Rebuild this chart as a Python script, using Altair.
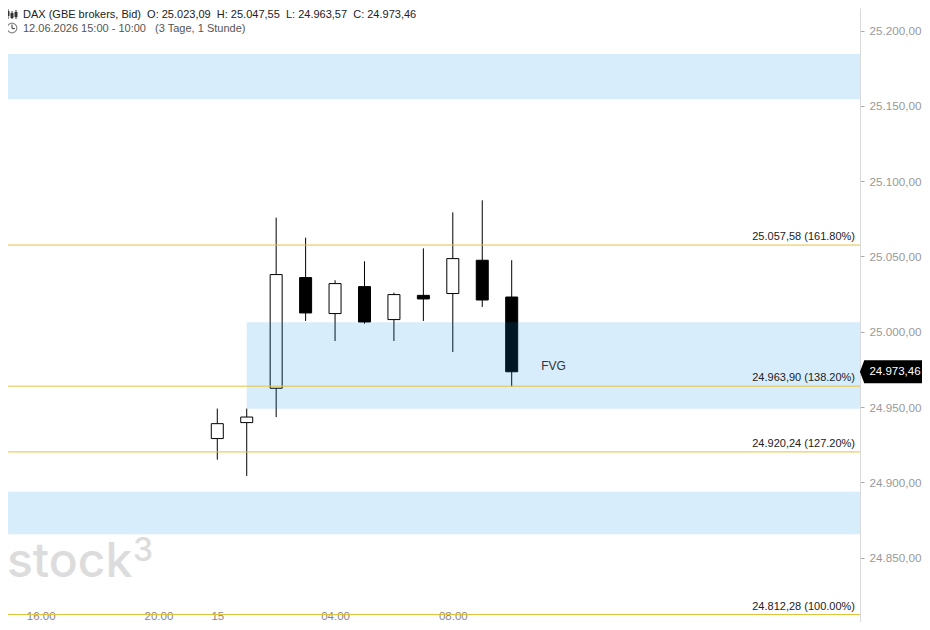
import altair as alt
import pandas as pd

# ---- data ----
bar_index = list(range(11))  # hourly bars of 15.06 (00:00 .. 10:00)
opens = [24929.1, 24939.7, 24962.5, 25036.0, 25012.1, 25030.0, 25008.1, 25024.2, 25025.4, 25047.5, 25023.09]
highs = [24949.0, 24949.0, 25075.8, 25062.5, 25034.2, 25046.8, 25026.0, 25055.4, 25079.3, 25087.3, 25047.55]
lows = [24915.1, 24904.3, 24943.4, 25007.2, 24993.9, 25005.4, 24993.9, 25007.2, 24986.6, 25016.5, 24963.57]
closes = [24939.0, 24943.4, 25038.0, 25012.5, 25032.0, 25006.5, 25024.7, 25021.8, 25048.6, 25021.1, 24973.46]

fib_levels = [25057.58, 24963.90, 24920.24, 24812.28]
fib_pcts = ["161.80%", "138.20%", "127.20%", "100.00%"]

band_lows = [25218.3, 25154.4, 24865.5]
band_highs = [25240.0, 25184.5, 24893.8]
fvg_low, fvg_high, fvg_start, fvg_label_pos = 24948.9, 25006.3, 1, 11

x_tick_pos = [-6, -2, 0, 4, 8]
x_tick_labels = ["16:00", "20:00", "15", "04:00", "08:00"]
y_ticks = [24850, 24900, 24950, 25000, 25050, 25100, 25150, 25200]

X_MIN, X_MAX = -7.109, 21.831
Y_MIN, Y_MAX = 24807.3, 25215.0
W, H = 852, 614
PAD_RIGHT = 62
NB = "\u00a0"


def de(v):
    s = f"{v:,.2f}"
    return s.replace(",", "_").replace(".", ",").replace("_", ".")


candles = pd.DataFrame({"i": bar_index, "open": opens, "high": highs, "low": lows, "close": closes})
candles["bull"] = candles["close"] >= candles["open"]

fib = pd.DataFrame({"level": fib_levels, "label": [f"{de(v)} ({p})" for v, p in zip(fib_levels, fib_pcts)]})
bands = pd.DataFrame({"lo": band_lows, "hi": band_highs, "x0": X_MIN, "x1": X_MAX})
fvg = pd.DataFrame({"lo": [fvg_low], "hi": [fvg_high], "x0": [fvg_start], "x1": [X_MAX],
                    "xl": [fvg_label_pos], "mid": [(fvg_low + fvg_high) / 2]})

xs = alt.Scale(domain=[X_MIN, X_MAX], nice=False, zero=False, padding=0)
ys = alt.Scale(domain=[Y_MIN, Y_MAX], nice=False, zero=False, padding=0)

label_expr = " : ".join(
    [f"datum.value == {p} ? '{l}'" for p, l in zip(x_tick_pos, x_tick_labels)]
) + " : ''"

x_axis = alt.Axis(values=x_tick_pos, labelExpr=label_expr, domain=False, grid=False, ticks=False,
                  tickSize=0, labelColor="#888", labelFontSize=11.5, labelFont="Liberation Sans",
                  labelPadding=-3, labelBaseline="alphabetic", title=None)
y_axis = alt.Axis(orient="right", values=y_ticks,
                  labelExpr="replace(replace(replace(format(datum.value, ',.2f'), ',', '_'), '.', ','), '_', '.')",
                  domainColor="#d9d9d9", tickColor="#aaa", tickSize=4, labelColor="#999",
                  labelFontSize=11.7, labelFont="Liberation Sans", labelPadding=5, grid=False, title=None)


def X(field):
    return alt.X(field, scale=xs, axis=x_axis)


def Y(field):
    return alt.Y(field, scale=ys, axis=y_axis)


base = alt.Chart(candles)

wicks = base.mark_rule(color="#000", strokeWidth=1).encode(
    x=X("i:Q"), y=Y("low:Q"), y2="high:Q",
)
bodies = base.mark_bar(size=12, stroke="#000", strokeWidth=1).encode(
    x=X("i:Q"),
    y=Y("open:Q"),
    y2="close:Q",
    fill=alt.Fill("bull:N", scale=alt.Scale(domain=[True, False], range=["#ffffff", "#000000"]), legend=None),
)

band_layer = alt.Chart(bands).mark_rect(fill="#0d8ee8", opacity=0.16, clip=True).encode(
    x=X("x0:Q"), x2="x1:Q", y=Y("lo:Q"), y2="hi:Q"
)
fvg_layer = alt.Chart(fvg).mark_rect(fill="#0d8ee8", opacity=0.16, clip=True).encode(
    x=X("x0:Q"), x2="x1:Q", y=Y("lo:Q"), y2="hi:Q"
)
fvg_text = alt.Chart(fvg).mark_text(text="FVG", align="left", baseline="middle", fontSize=12,
                                    font="Liberation Sans", color="#333").encode(
    x=X("xl:Q"), y=Y("mid:Q")
)

fib_lines = alt.Chart(fib).mark_rule(color="#e6c23c", strokeWidth=1).encode(
    x=alt.value(0), x2=alt.value(W), y=Y("level:Q")
)
fib_text = alt.Chart(fib).mark_text(align="right", baseline="bottom", dy=-3, fontSize=11,
                                    font="Liberation Sans", color="#222").encode(
    x=alt.value(W - 5), y=Y("level:Q"), text="label:N"
)

last = candles.iloc[[-1]].copy()
last["tag"] = [de(v) for v in last["close"]]
tag_shape = alt.Chart(last).mark_point(
    shape="M-1,0L-0.88,-0.32L1,-0.32L1,0.32L-0.88,0.32Z", size=4356, filled=True,
    fill="#000", stroke="#000", opacity=1).encode(
    x=alt.value(W + 34), y=Y("close:Q")
)
tag_text = alt.Chart(last).mark_text(align="center", baseline="middle", fontSize=11.5,
                                     font="Liberation Sans", color="#fff").encode(
    x=alt.value(W + 35), y=Y("close:Q"), text="tag:N"
)

line1 = ("DAX (GBE brokers, Bid)" + NB * 2 + "O: " + de(opens[-1]) + NB * 2 + "H: " + de(highs[-1]) +
         NB * 2 + "L: " + de(lows[-1]) + NB * 2 + "C: " + de(closes[-1]))
line2 = "12.06.2026 15:00 - 10:00" + NB * 3 + "(3 Tage, 1 Stunde)"
hdr = pd.DataFrame({"t1": [line1], "t2": [line2]})
h1 = alt.Chart(hdr).mark_text(align="left", baseline="middle", fontSize=11, font="Liberation Sans",
                              color="#222").encode(x=alt.value(15), y=alt.value(6.5), text="t1:N")
h2 = alt.Chart(hdr).mark_text(align="left", baseline="middle", fontSize=11, font="Liberation Sans",
                              color="#555").encode(x=alt.value(15), y=alt.value(20.5), text="t2:N")
clock = alt.Chart(hdr).mark_point(shape="circle", size=95, filled=False, stroke="#555",
                                  strokeWidth=1.2).encode(x=alt.value(4), y=alt.value(20))
clock_hand = alt.Chart(hdr).mark_rule(color="#555", strokeWidth=1.2).encode(
    x=alt.value(4), y=alt.value(16.5), y2=alt.value(20.5))
clock_hand2 = alt.Chart(hdr).mark_rule(color="#555", strokeWidth=1.2).encode(
    x=alt.value(4), x2=alt.value(7), y=alt.value(20.5))
icon_w = alt.Chart(pd.DataFrame({"ix": [0, 4, 8], "y0": [1, 3, 2], "y1": [11, 11, 11]})).mark_rule(
    color="#333", strokeWidth=1).encode(x=alt.X("ix:Q", scale=None, axis=None),
                                        y=alt.Y("y0:Q", scale=None, axis=None), y2="y1:Q")
icon_b = alt.Chart(pd.DataFrame({"ix": [0, 4, 8], "y0": [3, 5, 4], "y1": [8, 10, 9]})).mark_bar(
    size=3, color="#333").encode(x=alt.X("ix:Q", scale=None, axis=None),
                                 y=alt.Y("y0:Q", scale=None, axis=None), y2="y1:Q")

wm = pd.DataFrame({"a": ["stock"], "b": ["3"]})
wm1 = alt.Chart(wm).mark_text(align="left", baseline="alphabetic", fontSize=48, font="Inter",
                              fontWeight=500, color="#dcdcdc").encode(x=alt.value(-1), y=alt.value(569), text="a:N")
wm2 = alt.Chart(wm).mark_text(align="left", baseline="alphabetic", fontSize=32, font="Inter",
                              fontWeight=500, color="#dcdcdc").encode(x=alt.value(125), y=alt.value(553), text="b:N")

chart = alt.layer(
    wicks, bodies, band_layer, fvg_layer, fib_lines, fib_text, fvg_text,
    wm1, wm2, h1, h2, clock, clock_hand, clock_hand2, icon_w, icon_b, tag_shape, tag_text
).properties(
    width=W, height=H,
    background="#ffffff",
    autosize=alt.AutoSizeParams(type="none"),
    padding={"left": 0, "top": 0, "right": PAD_RIGHT, "bottom": 0},
).configure_view(stroke=None)

chart.save("out.html", embed_options={"renderer": "svg", "actions": False})
